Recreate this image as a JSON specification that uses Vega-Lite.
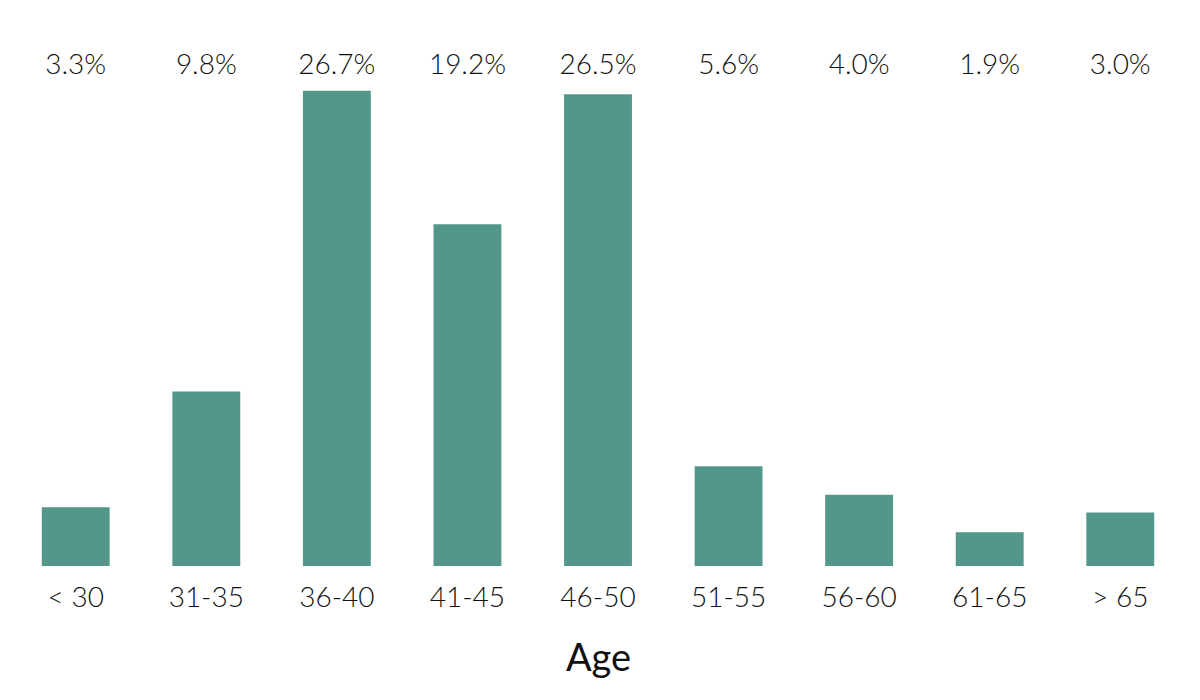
{
  "$schema": "https://vega.github.io/schema/vega-lite/v6.json",
  "width": 1196,
  "height": 534,
  "autosize": {"type": "none"},
  "padding": {"left": 0, "right": 4, "top": 32, "bottom": 134},
  "background": "white",
  "config": {"view": {"stroke": null}, "font": "Lato"},
  "data": {"values": [
    {"age": "< 30", "pct": 3.3, "label": "3.3%"},
    {"age": "31-35", "pct": 9.8, "label": "9.8%"},
    {"age": "36-40", "pct": 26.7, "label": "26.7%"},
    {"age": "41-45", "pct": 19.2, "label": "19.2%"},
    {"age": "46-50", "pct": 26.5, "label": "26.5%"},
    {"age": "51-55", "pct": 5.6, "label": "5.6%"},
    {"age": "56-60", "pct": 4.0, "label": "4.0%"},
    {"age": "61-65", "pct": 1.9, "label": "1.9%"},
    {"age": "> 65", "pct": 3.0, "label": "3.0%"}
  ]},
  "encoding": {
    "x": {
      "field": "age", "type": "nominal", "sort": null,
      "scale": {"paddingInner": 0.48, "paddingOuter": 0.32},
      "axis": {
        "title": "Age", "labelAngle": 0, "domain": false, "ticks": false,
        "labelFont": "Lato", "labelFontSize": 28, "labelFontWeight": 300, "labelColor": "#111111",
        "labelPadding": 18, "titleFont": "Lato", "titleFontSize": 38, "titleFontWeight": 400,
        "titleColor": "#111111", "titlePadding": 28
      }
    }
  },
  "layer": [
    {
      "mark": {"type": "bar", "color": "#52978A"},
      "encoding": {
        "y": {"field": "pct", "type": "quantitative", "scale": {"domain": [0, 30]}, "axis": null}
      }
    },
    {
      "mark": {"type": "text", "font": "Lato", "fontSize": 28, "fontWeight": 300, "color": "#111111", "baseline": "middle"},
      "encoding": {
        "y": {"datum": 28.1, "type": "quantitative"},
        "text": {"field": "label", "type": "nominal"}
      }
    }
  ]
}
